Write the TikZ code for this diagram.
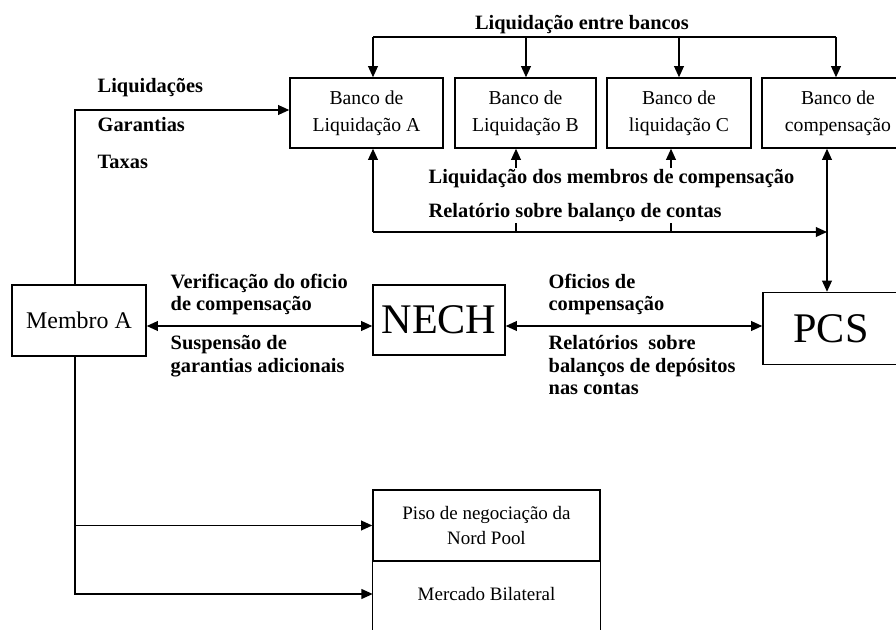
\documentclass[tikz,border=0pt]{standalone}
\usepackage{fontspec}
\setmainfont{Liberation Serif}
\usetikzlibrary{arrows.meta}
\tikzset{
  box/.style={draw, line width=1pt, minimum height=1.75cm, align=center, inner sep=2pt, font=\fontsize{14}{19}\selectfont},
  lbl/.style={font=\bfseries\fontsize{14.5}{15.8}\selectfont, align=left, fill=white, inner sep=1pt},
  arr/.style={-{Triangle[length=8pt,width=7pt]}, line width=1pt},
  twoarr/.style={{Triangle[length=8pt,width=7pt]}-{Triangle[length=8pt,width=7pt]}, line width=1pt}
}
\begin{document}
\begin{tikzpicture}[x=0.025cm, y=-0.025cm]
\useasboundingbox (0,0) rectangle (896,630);
% boxes
\node[box, minimum width=3.825cm] (bankA) at (366.5,113) {Banco de\\Liquidação A};
\node[box, minimum width=3.525cm] (bankB) at (525.5,113) {Banco de\\Liquidação B};
\node[box, minimum width=3.6cm] (bankC) at (679,113) {Banco de\\liquidação C};
\node[box, minimum width=3.8cm] (bankComp) at (838,113) {Banco de\\compensação};
\node[box, minimum width=3.35cm, minimum height=1.775cm, font=\fontsize{17}{20}\selectfont] (membro) at (79,320.5) {Membro A};
\node[box, minimum width=3.3cm, font=\fontsize{30}{32}\selectfont] (nech) at (439,320) {NECH};
\node[box, minimum width=3.4cm, minimum height=1.8cm, font=\fontsize{30}{32}\selectfont] (pcs) at (831,328.5) {PCS};
\node[box, minimum width=5.675cm, minimum height=1.775cm, font=\fontsize{13.5}{18}\selectfont] (piso) at (486.5,525.5) {Piso de negociação da\\Nord Pool};
\node[font=\fontsize{13.5}{18}\selectfont, minimum width=5.675cm] (mercado) at (486.5,594) {Mercado Bilateral};
\coordinate (edge) at (0,632);
\draw[line width=1pt] (piso.south west) -- (piso.south west |- edge);
\draw[line width=1pt] (piso.south east) -- (piso.south east |- edge);
% liquidacao entre bancos
\coordinate (tA) at (373,37);
\coordinate (tB) at (526,37);
\coordinate (tC) at (679,37);
\coordinate (tComp) at (836,37);
\draw[line width=1pt] (tA) -- (tComp);
\draw[arr] (tA) -- (tA |- bankA.north);
\draw[arr] (tB) -- (tB |- bankB.north);
\draw[arr] (tC) -- (tC |- bankC.north);
\draw[arr] (tComp) -- (tComp |- bankComp.north);
% retorno dos bancos
\coordinate (rA) at (373,232);
\coordinate (rB) at (516,232);
\coordinate (rC) at (671,232);
\coordinate (rComp) at (827,232);
\draw[arr] (rA) -- (rA |- bankA.south);
\draw[arr] (rB) -- (rB |- bankB.south);
\draw[arr] (rC) -- (rC |- bankC.south);
\draw[arr] (rA) -- (rComp);
\draw[twoarr] (rComp |- bankComp.south) -- (rComp |- pcs.north);
% membro A
\coordinate (lm) at (75,110);
\coordinate (bl) at (75,594);
\coordinate (mid) at (0,326);
\draw[arr] (membro.north -| lm) -- (lm) -- (lm -| bankA.west);
\draw[arr] (membro.south -| bl) -- (bl) -- (mercado.west);
\draw[arr] (bl |- piso.west) -- (piso.west);
\draw[twoarr] (membro.east |- mid) -- (nech.west |- mid);
\draw[twoarr] (nech.east |- mid) -- (pcs.west |- mid);
% labels
\node[lbl] (lEntre) at (582,25) {Liquidação entre bancos};
\node[lbl, anchor=west] (lLiq) at (96,88) {Liquidações};
\node[lbl, anchor=west] (lGar) at (96,125) {Garantias};
\node[lbl, anchor=west] (lTax) at (96,162) {Taxas};
\node[lbl, anchor=north west] (lMemb) at (427,168) {Liquidação dos membros de compensação\\[8pt]Relatório sobre balanço de contas};
\node[lbl, anchor=north west] (lVer) at (169,272) {Verificação do oficio\\de compensação};
\node[lbl, anchor=north west] (lSusp) at (169,334) {Suspensão de\\garantias adicionais};
\node[lbl, anchor=north west] (lOfi) at (547,272) {Oficios de\\compensação};
\node[lbl, anchor=north west] (lRel) at (547,334) {Relatórios\ \ sobre\\balanços de depósitos\\nas contas};
\end{tikzpicture}
\end{document}
